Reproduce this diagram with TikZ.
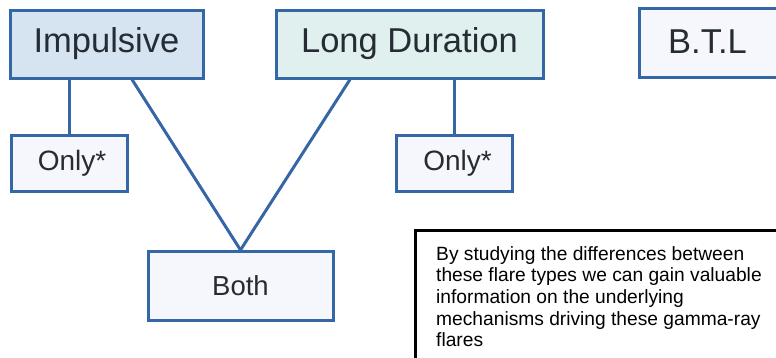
\documentclass[tikz,border=0pt]{standalone}
\usepackage{fontspec}
\setmainfont{Liberation Sans}
\definecolor{edgeblue}{HTML}{3566A5}
\definecolor{impfill}{HTML}{D6E4F1}
\definecolor{ldfill}{HTML}{DFF0EF}
\definecolor{palefill}{HTML}{F6F6FD}
\definecolor{txtdark}{HTML}{262C33}
\begin{document}
\begin{tikzpicture}[x=1pt,y=-1pt,
  box/.style={draw=edgeblue, line width=3pt, rectangle, inner sep=0pt, text=txtdark},
  big/.style={box, font=\fontsize{34.5}{40}\selectfont},
  small/.style={box, fill=palefill, font=\fontsize{28}{33}\selectfont},
  link/.style={draw=edgeblue, line width=3pt}]
\useasboundingbox (0,0) rectangle (776,357);
\node[big, fill=impfill, minimum width=193pt, minimum height=68pt] (imp) at (106.5,44) {Impulsive\hspace{6pt}};
\node[big, fill=ldfill, minimum width=267pt, minimum height=68pt] (ld) at (409.5,44) {Long Duration};
\node[big, fill=palefill, minimum width=190pt, minimum height=69pt, anchor=north west] (btl) at (638,7) {};
\node[font=\fontsize{34.5}{40}\selectfont, text=txtdark] (btltxt) at (707.5,42) {B.T.L};
\node[small, minimum width=116pt, minimum height=56pt] (o1) at (69,163) {\hspace{6pt}Only*};
\node[small, minimum width=116pt, minimum height=56pt] (o2) at (454.5,163) {\hspace{6pt}Only*};
\node[small, font=\fontsize{27.5}{33}\selectfont, minimum width=185pt, minimum height=69pt] (both) at (240.5,286) {Both};
\draw[link] (imp.south -| o1.north) -- (o1.north);
\draw[link] (ld.south -| o2.north) -- (o2.north);
\draw[link] ([xshift=25.5pt]imp.south) -- (both.north);
\draw[link] ([xshift=-59.5pt]ld.south) -- (both.north);
\node[draw=black, line width=3pt, rectangle, minimum width=420pt, minimum height=160pt, anchor=north west, inner sep=0pt] (note) at (413.5,228.5) {};
\node[anchor=north west, inner sep=0pt, align=left, text=black, font=\fontsize{19.2}{21.7}\selectfont] (notetxt) at (436,246) {By studying the differences between\\these flare types we can gain valuable\\information on the underlying\\mechanisms driving these gamma-ray\\flares};
\end{tikzpicture}
\end{document}
